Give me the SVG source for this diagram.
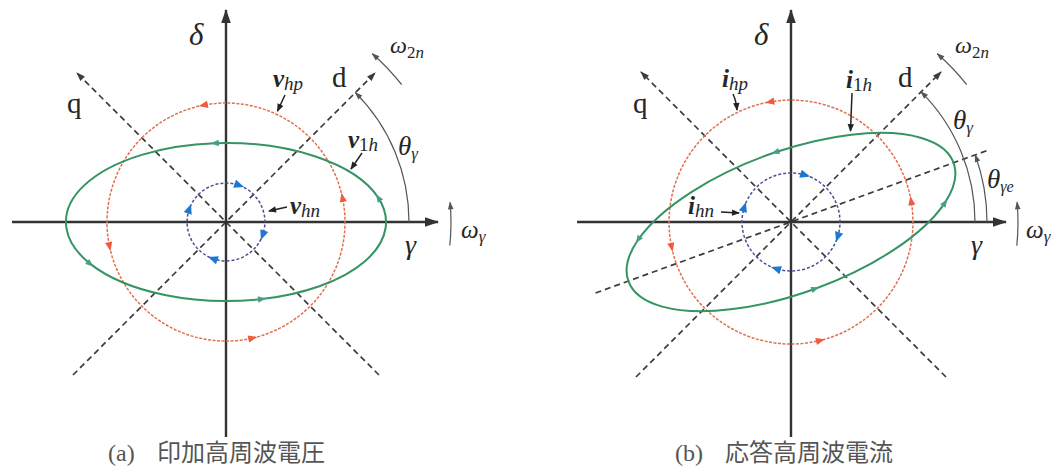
<svg xmlns="http://www.w3.org/2000/svg" width="1061" height="474" viewBox="0 0 1061 474">
<style>
.ax{stroke:#333;stroke-width:2.4;fill:none}
.dax{stroke:#3c3c3c;stroke-width:1.7;stroke-dasharray:6 4;fill:none}
.red{stroke:#e2704f;stroke-width:1.5;stroke-dasharray:3 1.5;fill:none}
.grn{stroke:#359462;stroke-width:2;fill:none}
.blu{stroke:#4f4f98;stroke-width:1.5;stroke-dasharray:3 2;fill:none}
.thin{stroke:#555;stroke-width:1.2;fill:none}
.la{stroke:#222;stroke-width:1.5;fill:none}
text{font-family:"Liberation Serif","Times New Roman",serif;fill:#262626}
.it{font-style:italic}
.bi{font-style:italic;font-weight:bold}
.cap{font-family:"Liberation Serif","Noto Sans CJK JP",serif;font-size:24px;fill:#555}
</style>
<defs>
<marker id="axh" markerUnits="userSpaceOnUse" viewBox="-16 -8 18 16" refX="0" refY="0" markerWidth="18" markerHeight="16" orient="auto" overflow="visible"><path d="M1,0 L-13,-4.8 L-13,4.8 Z" fill="#333"/></marker>
<marker id="dah" markerUnits="userSpaceOnUse" viewBox="-10 -6 12 12" refX="0" refY="0" markerWidth="12" markerHeight="12" orient="auto" overflow="visible"><path d="M1,0 L-8,-3.2 L-8,3.2 Z" fill="#3c3c3c"/></marker>
<marker id="tah" markerUnits="userSpaceOnUse" viewBox="-10 -6 12 12" refX="0" refY="0" markerWidth="12" markerHeight="12" orient="auto" overflow="visible"><path d="M1,0 L-7,-2.8 L-7,2.8 Z" fill="#555"/></marker>
<marker id="lah" markerUnits="userSpaceOnUse" viewBox="-10 -6 12 12" refX="0" refY="0" markerWidth="12" markerHeight="12" orient="auto" overflow="visible"><path d="M1,0 L-7,-3.2 L-7,3.2 Z" fill="#222"/></marker>
<marker id="mr" markerUnits="userSpaceOnUse" viewBox="-6 -6 12 12" refX="0" refY="0" markerWidth="12" markerHeight="12" orient="auto" overflow="visible"><path d="M4.5,0 L-4.5,-3.6 L-4.5,3.6 Z" fill="#ef5b3c"/></marker>
<marker id="mg" markerUnits="userSpaceOnUse" viewBox="-6 -6 12 12" refX="0" refY="0" markerWidth="12" markerHeight="12" orient="auto" overflow="visible"><path d="M4,0 L-4,-3.2 L-4,3.2 Z" fill="#45a083"/></marker>
<marker id="mb" markerUnits="userSpaceOnUse" viewBox="-6 -6 12 12" refX="0" refY="0" markerWidth="12" markerHeight="12" orient="auto" overflow="visible"><path d="M5,0 L-5,-4.2 L-5,4.2 Z" fill="#1e78d2"/></marker>
</defs>
<rect width="1061" height="474" fill="#fff"/>

<!-- (a) applied HF voltage -->
<g id="diagram-a">
  <g id="a-axes">
    <path class="dax" d="M73 375 L375 73" marker-end="url(#dah)"/>
    <path class="dax" d="M379 375 L77 73" marker-end="url(#dah)"/>
    <path class="ax" d="M12 222 L438 222" marker-end="url(#axh)"/>
    <path class="ax" d="M226 437 L226 10" marker-end="url(#axh)"/>
  </g>
  <g id="a-vhp">
    <path class="red" d="M342.4 197.3 A119 119 0 0 0 203.3 105.2 A119 119 0 0 0 109.6 246.7 A119 119 0 0 0 252.8 338 A119 119 0 0 0 342.4 197.3" marker-mid="url(#mr)" marker-end="url(#mr)"/>
  </g>
  <g id="a-v1h">
    <path class="grn" d="M378.2 197.6 A160 79 0 0 0 214.8 143.2 A160 79 0 0 0 90.3 263.9 A160 79 0 0 0 262 299 A160 79 0 0 0 378.2 197.6" marker-mid="url(#mg)" marker-end="url(#mg)"/>
  </g>
  <g id="a-vhn">
    <path class="blu" d="M239.3 185.4 A39 39 0 0 1 262.6 235.3 A39 39 0 0 1 212.7 258.6 A39 39 0 0 1 189.4 208.7 A39 39 0 0 1 239.3 185.4" marker-mid="url(#mb)" marker-end="url(#mb)"/>
  </g>
  <g id="a-angles">
    <path class="thin" d="M409 222 A183 183 0 0 0 355.4 92.6" marker-end="url(#tah)"/>
    <path class="thin" d="M401.7 84.7 A223 223 0 0 0 372.3 53.7" marker-end="url(#tah)"/>
    <path class="thin" d="M449.8 245.5 A225 225 0 0 0 450.1 202.4" marker-end="url(#tah)"/>
  </g>
  <g id="a-label-arrows">
    <path class="la" d="M285 95 L277.5 111" marker-end="url(#lah)"/>
    <path class="la" d="M362 153 L351 169" marker-end="url(#lah)"/>
    <path class="la" d="M287 207 L269 211" marker-end="url(#lah)"/>
  </g>
  <g id="a-labels">
    <text x="189" y="45" class="it" font-size="31">δ</text>
    <text x="67" y="113" font-size="29">q</text>
    <text x="332" y="87" font-size="29">d</text>
    <text x="390" y="53" class="it" font-size="24">ω<tspan font-size="17" dy="5" font-style="normal">2</tspan><tspan font-size="17">n</tspan></text>
    <text x="398" y="155" class="it" font-size="27">θ<tspan font-size="17" dy="4">γ</tspan></text>
    <text x="405" y="254" class="it" font-size="28">γ</text>
    <text x="461" y="238" class="it" font-size="25">ω<tspan font-size="17" dy="4">γ</tspan></text>
    <text x="273" y="87" font-size="25"><tspan class="bi">v</tspan><tspan class="it" font-size="19" dy="3">hp</tspan></text>
    <text x="348" y="148" font-size="25"><tspan class="bi">v</tspan><tspan font-size="19" dy="3">1</tspan><tspan class="it" font-size="19">h</tspan></text>
    <text x="290" y="214" font-size="25"><tspan class="bi">v</tspan><tspan class="it" font-size="19" dy="3">hn</tspan></text>
  </g>
  <text class="cap" x="108" y="461">(a)<tspan x="157">印加高周波電圧</tspan></text>
</g>

<!-- (b) response HF current -->
<g id="diagram-b">
  <g id="b-axes">
    <path class="dax" d="M636 377 L941 72" marker-end="url(#dah)"/>
    <path class="dax" d="M946 377 L641 72" marker-end="url(#dah)"/>
    <path class="dax" d="M595.5 293 L990 149.5"/>
    <path class="ax" d="M577 222 L1006 222" marker-end="url(#axh)"/>
    <path class="ax" d="M791 437 L791 10" marker-end="url(#axh)"/>
  </g>
  <g id="b-ihp">
    <path class="red" d="M911.1 200.8 A122 122 0 0 0 769.8 101.9 A122 122 0 0 0 671.7 247.4 A122 122 0 0 0 820.5 340.4 A122 122 0 0 0 911.1 200.8" marker-mid="url(#mr)" marker-end="url(#mr)"/>
  </g>
  <g id="b-i1h">
    <path class="grn" d="M945 202.6 A173 71 -20 0 0 775.3 152.3 A173 71 -20 0 0 638.1 239.8 A173 71 -20 0 0 815.3 288.7 A173 71 -20 0 0 945 202.6" marker-mid="url(#mg)" marker-end="url(#mg)"/>
  </g>
  <g id="b-ihn">
    <path class="blu" d="M805.3 175.1 A49 49 0 0 1 837.6 237.1 A49 49 0 0 1 775.9 268.6 A49 49 0 0 1 744.4 206.9 A49 49 0 0 1 805.3 175.1" marker-mid="url(#mb)" marker-end="url(#mb)"/>
  </g>
  <g id="b-angles">
    <path class="thin" d="M975 222 A184 184 0 0 0 921.1 91.9" marker-end="url(#tah)"/>
    <path class="thin" d="M987 222 A196 196 0 0 0 975.2 155" marker-end="url(#tah)"/>
    <path class="thin" d="M966.7 84.7 A223 223 0 0 0 937.3 53.7" marker-end="url(#tah)"/>
    <path class="thin" d="M1016.8 245.7 A227 227 0 0 0 1017.1 202.2" marker-end="url(#tah)"/>
  </g>
  <g id="b-label-arrows">
    <path class="la" d="M733 94 Q736 100 737 110" marker-end="url(#lah)"/>
    <path class="la" d="M852 93 L850.5 131" marker-end="url(#lah)"/>
    <path class="la" d="M721 212 L739 213" marker-end="url(#lah)"/>
  </g>
  <g id="b-labels">
    <text x="754" y="45" class="it" font-size="31">δ</text>
    <text x="633" y="113" font-size="29">q</text>
    <text x="898" y="87" font-size="29">d</text>
    <text x="955" y="53" class="it" font-size="24">ω<tspan font-size="17" dy="5" font-style="normal">2</tspan><tspan font-size="17">n</tspan></text>
    <text x="953" y="129" class="it" font-size="27">θ<tspan font-size="17" dy="4">γ</tspan></text>
    <text x="987" y="188" class="it" font-size="27">θ<tspan font-size="16" dy="4">γe</tspan></text>
    <text x="971" y="254" class="it" font-size="28">γ</text>
    <text x="1026" y="238" class="it" font-size="25">ω<tspan font-size="17" dy="4">γ</tspan></text>
    <text x="722" y="87" font-size="25"><tspan class="bi">i</tspan><tspan class="it" font-size="19" dy="3">hp</tspan></text>
    <text x="846" y="88" font-size="25"><tspan class="bi">i</tspan><tspan font-size="19" dy="3">1</tspan><tspan class="it" font-size="19">h</tspan></text>
    <text x="688" y="214" font-size="25"><tspan class="bi">i</tspan><tspan class="it" font-size="19" dy="3">hn</tspan></text>
  </g>
  <text class="cap" x="675" y="461">(b)<tspan x="725">応答高周波電流</tspan></text>
</g>
</svg>
